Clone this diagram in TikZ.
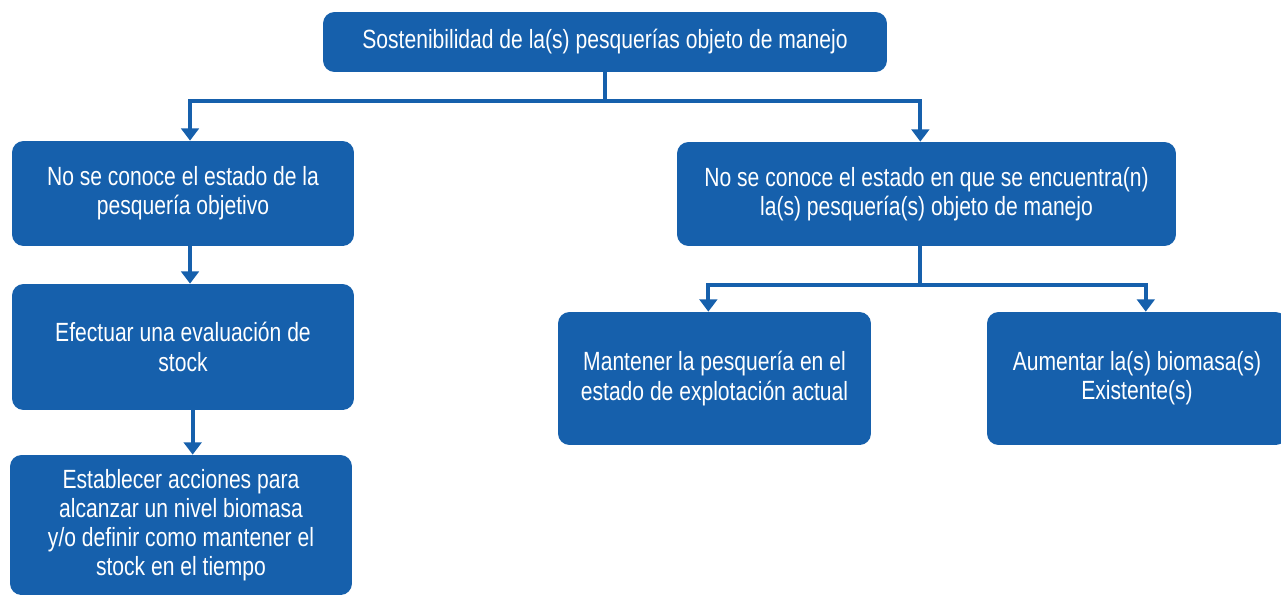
\documentclass[tikz,border=0pt]{standalone}
\usepackage{fontspec}
\setmainfont{Liberation Sans}[FakeStretch=0.8]
\usepackage{xcolor}
\usetikzlibrary{arrows.meta,positioning,calc}
\definecolor{boxblue}{RGB}{22,96,172}

\begin{document}
\begin{tikzpicture}[
    x=0.02cm, y=-0.02cm,
    box/.style={rectangle, rounded corners=6.5pt, fill=boxblue, text=white, align=center, inner sep=0pt, font=\fontsize{15}{16.6}\selectfont},
    conn/.style={draw=boxblue, line width=2.3pt},
    arrow/.style={conn, -{Triangle[width=10pt, length=7pt]}}
]
\useasboundingbox (0,0) rectangle (1281,595);

% Top goal
\node[box, minimum width=11.28cm, minimum height=1.2cm] (goal) at (605,42) {Sostenibilidad de la(s) pesquerías objeto de manejo};

% Left branch
\node[box, minimum width=6.84cm, minimum height=2.1cm] (unknown) at (183,193.5) {No se conoce el estado de la\\pesquería objetivo};
\node[box, minimum width=6.84cm, minimum height=2.52cm] (assess) at (183,347) {Efectuar una evaluación de\\stock};
\node[box, minimum width=6.84cm, minimum height=2.8cm] (actions) at (181,525) {Establecer acciones para\\alcanzar un nivel biomasa\\y/o definir como mantener el\\stock en el tiempo};

% Right branch
\node[box, minimum width=9.98cm, minimum height=2.08cm] (state) at (926.5,194) {No se conoce el estado en que se encuentra(n)\\la(s) pesquería(s) objeto de manejo};
\node[box, minimum width=6.26cm, minimum height=2.66cm] (keep) at (714.5,378.5) {Mantener la pesquería en el\\estado de explotación actual};
\node[box, minimum width=6.0cm, minimum height=2.66cm] (raise) at (1137,378.5) {Aumentar la(s) biomasa(s)\\Existente(s)};

% Connectors
\coordinate (split) at (605,101);
\draw[conn] (goal.south) -- (split);
\draw[arrow] (split) -| ([xshift=4pt]unknown.north);
\draw[arrow] (split) -| ([xshift=-3.5pt]state.north);
\draw[arrow] ([xshift=4pt]unknown.south) -- ([xshift=4pt]assess.north);
\draw[arrow] ([xshift=5.5pt]assess.south) -- ([xshift=5.5pt]assess.south |- actions.north);
\coordinate (split2) at (920,285);
\draw[conn] (state.south -| split2) -- (split2);
\draw[arrow] (split2) -| ([xshift=-3.5pt]keep.north);
\draw[arrow] (split2) -| ([xshift=5pt]raise.north);

\end{tikzpicture}
\end{document}
